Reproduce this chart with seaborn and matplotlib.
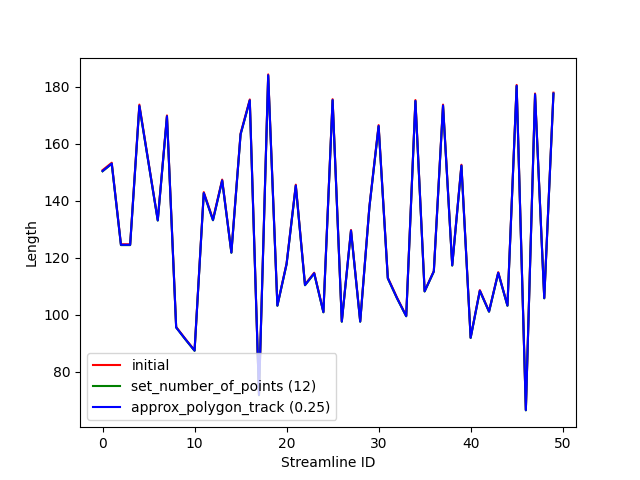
import matplotlib
matplotlib.use("Agg")
import matplotlib.pyplot as plt
import seaborn as sns
import pandas as pd

# Streamline lengths
streamline_id = list(range(50))

initial = [150.8, 153.4, 124.8, 124.8, 173.8, 153.5, 133.4, 170.0, 95.8, 91.6,
           87.6, 143.1, 133.6, 147.5, 122.0, 163.7, 175.6, 72.0, 184.4, 103.4,
           118.1, 145.7, 110.7, 114.8, 101.1, 175.7, 97.8, 129.8, 97.8, 138.1,
           166.6, 113.1, 106.1, 99.7, 175.4, 108.4, 115.4, 173.8, 117.5, 152.7,
           92.1, 108.7, 101.3, 115.0, 103.4, 180.7, 66.7, 177.7, 106.0, 178.0]

set_number_of_points = [150.4, 153.0, 124.5, 124.5, 173.2, 153.2, 133.1, 169.6, 95.6, 91.4,
                        87.4, 142.7, 133.2, 147.1, 121.8, 163.3, 175.2, 71.8, 183.9, 103.2,
                        117.8, 145.3, 110.4, 114.5, 100.9, 175.3, 97.6, 129.5, 97.6, 137.8,
                        166.1, 112.8, 105.8, 99.5, 175.0, 108.2, 115.2, 173.3, 117.3, 152.3,
                        91.9, 108.4, 101.1, 114.7, 103.2, 180.3, 66.5, 177.3, 105.8, 177.6]

approx_polygon_track = [150.5, 153.1, 124.6, 124.6, 173.4, 153.3, 133.2, 169.7, 95.6, 91.5,
                        87.5, 142.8, 133.3, 147.2, 121.9, 163.4, 175.3, 71.9, 184.1, 103.3,
                        117.9, 145.4, 110.5, 114.6, 101.0, 175.4, 97.7, 129.6, 97.7, 137.9,
                        166.3, 112.9, 105.9, 99.6, 175.1, 108.3, 115.3, 173.5, 117.4, 152.4,
                        92.0, 108.5, 101.2, 114.8, 103.3, 180.4, 66.6, 177.4, 105.9, 177.7]

df = pd.DataFrame({
    "Streamline ID": streamline_id * 3,
    "Length": initial + set_number_of_points + approx_polygon_track,
    "method": (["initial"] * 50 + ["set_number_of_points (12)"] * 50
               + ["approx_polygon_track (0.25)"] * 50),
})

fig, ax = plt.subplots(figsize=(6.4, 4.8), dpi=100)
sns.lineplot(data=df, x="Streamline ID", y="Length", hue="method",
             palette=["red", "green", "blue"], linewidth=1.5, ax=ax)
ax.legend(loc="lower left")

fig.savefig("out.png")
